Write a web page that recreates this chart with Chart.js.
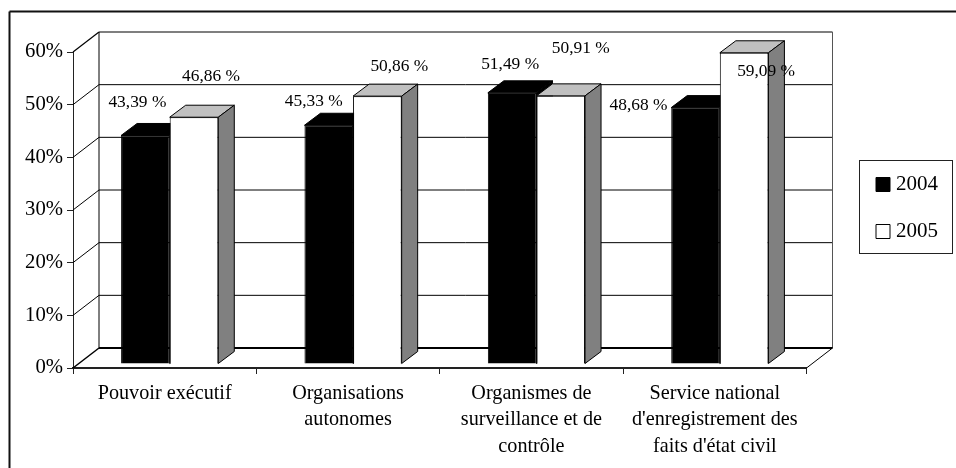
<!DOCTYPE html>
<html>
<head>
<meta charset="utf-8">
<style>
  html, body { margin: 0; padding: 0; background: #fff; }
  canvas { display: block; }
</style>
<script src="https://cdn.jsdelivr.net/npm/chart.js@4"></script>
</head>
<body>
<canvas id="chart" width="956" height="468"></canvas>
<script>
const categories = [
    'Pouvoir exécutif',
    ['Organisations', 'autonomes'],
    ['Organismes de', 'surveillance et de', 'contrôle'],
    ['Service national', "d'enregistrement des", "faits d'état civil"]
];
const values2004 = [43.39, 45.33, 51.49, 48.68];
const values2005 = [46.86, 50.86, 50.91, 59.09];
const yTicks = [0, 10, 20, 30, 40, 50, 60];

const serif = '"Liberation Serif", "Times New Roman", serif';

// fake 3D: wall depth and bar depth in px
const wall = { dx: 26, dy: -20 };
const barShift = { x: 5, y: -4 };
const barDepth = { dx: 16, dy: -12 };

// where each value label sits relative to the top centre of its bar
const labelOffsets = [
    [[-8, -33], [-15, -24], [-2, -28], [-57, -2]],
    [[17, -41], [22, -30], [20, -47], [22, 19]]
];

function line(ctx, x1, y1, x2, y2, color, width) {
    ctx.beginPath();
    ctx.moveTo(x1, y1);
    ctx.lineTo(x2, y2);
    ctx.strokeStyle = color;
    ctx.lineWidth = width;
    ctx.stroke();
}

function face(ctx, pts, fill) {
    ctx.beginPath();
    pts.forEach((p, i) => i ? ctx.lineTo(p[0], p[1]) : ctx.moveTo(p[0], p[1]));
    ctx.closePath();
    ctx.fillStyle = fill;
    ctx.fill();
    ctx.strokeStyle = '#000';
    ctx.lineWidth = 1;
    ctx.stroke();
}

const box3d = {
    id: 'box3d',
    afterLayout(chart) {
        // legend sits further right and higher than the default layout puts it
        const legend = chart.legend;
        legend.left = 850;
        legend.right = 938;
        legend.top -= 52;
        legend.bottom -= 52;
    },
    beforeDatasetsDraw(chart) {
        const ctx = chart.ctx;
        const { left, right, bottom } = chart.chartArea;
        const y = chart.scales.y;
        const backL = left + wall.dx;
        const backR = right + wall.dx;
        const top = y.getPixelForValue(60) + wall.dy;
        const floor = bottom + wall.dy;

        ctx.save();
        // walls and gridlines
        yTicks.forEach(t => {
            const py = y.getPixelForValue(t);
            if (t > 0) {
                line(ctx, left, py, backL, py + wall.dy, '#000', t === 60 ? 1.2 : 1);
                line(ctx, backL, py + wall.dy, backR, py + wall.dy, '#000', t === 60 ? 1.2 : 1);
            }
        });
        line(ctx, backL, top, backL, floor, '#000', 1);
        line(ctx, backR, top, backR, floor, '#555', 1);
        line(ctx, backL, floor, backR, floor, '#000', 2);
        line(ctx, left, bottom, backL, floor, '#000', 1.5);
        line(ctx, right, bottom, backR, floor, '#000', 1);

        // bars are pushed into the floor a bit, the library draws the front faces after this
        ctx.translate(barShift.x, barShift.y);
        chart.data.datasets.forEach((ds, di) => {
            chart.getDatasetMeta(di).data.forEach(bar => {
                const x0 = bar.x - bar.width / 2;
                const x1 = bar.x + bar.width / 2;
                const d = barDepth;
                face(ctx, [[x0, bar.y], [x0 + d.dx, bar.y + d.dy], [x1 + d.dx, bar.y + d.dy], [x1, bar.y]], ds.topColor);
                face(ctx, [[x1, bar.y], [x1 + d.dx, bar.y + d.dy], [x1 + d.dx, bar.base + d.dy], [x1, bar.base]], ds.sideColor);
            });
        });
        ctx.restore();

        ctx.save();
        ctx.translate(barShift.x, barShift.y);
    },
    afterDatasetsDraw(chart) {
        const ctx = chart.ctx;
        ctx.restore();

        ctx.save();
        ctx.font = '17.4px ' + serif;
        ctx.fillStyle = '#000';
        ctx.textAlign = 'center';
        ctx.textBaseline = 'middle';
        chart.data.datasets.forEach((ds, di) => {
            chart.getDatasetMeta(di).data.forEach((bar, i) => {
                const off = labelOffsets[di][i];
                const text = ds.data[i].toFixed(2).replace('.', ',') + ' %';
                ctx.fillText(text, bar.x + barShift.x + off[0], bar.y + barShift.y + off[1]);
            });
        });
        ctx.restore();
    },
    afterDraw(chart) {
        const ctx = chart.ctx;
        ctx.save();
        // outer frame, only top and left show in the picture
        line(ctx, 9.5, 468, 9.5, 11.5, '#111', 2);
        line(ctx, 9.5, 11.5, 956, 11.5, '#111', 2);
        // legend box
        ctx.strokeStyle = '#222';
        ctx.lineWidth = 1;
        ctx.strokeRect(859.5, 160.5, 93, 93);
        ctx.restore();
    }
};

new Chart(document.getElementById('chart'), {
    type: 'bar',
    data: {
        labels: categories,
        datasets: [
            {
                label: '2004',
                data: values2004,
                backgroundColor: '#000',
                borderColor: '#000',
                borderWidth: 1,
                topColor: '#000',
                sideColor: '#000'
            },
            {
                label: '2005',
                data: values2005,
                backgroundColor: '#fff',
                borderColor: '#000',
                borderWidth: 1,
                topColor: '#c0c0c0',
                sideColor: '#808080'
            }
        ]
    },
    options: {
        responsive: false,
        animation: false,
        categoryPercentage: 0.53,
        barPercentage: 1,
        layout: { padding: { top: 52, left: 0, right: 47, bottom: 0 } },
        plugins: {
            tooltip: { enabled: false },
            legend: {
                position: 'right',
                labels: {
                    boxWidth: 14,
                    boxHeight: 14,
                    padding: 26,
                    color: '#000',
                    textAlign: 'right',
                    font: { family: serif, size: 21 }
                }
            }
        },
        scales: {
            x: {
                afterFit(scale) { scale.height = 100; },
                grid: { drawOnChartArea: false, offset: true, color: '#222', tickLength: 6 },
                border: { color: '#222', width: 2 },
                ticks: {
                    color: '#000',
                    maxRotation: 0,
                    autoSkip: false,
                    padding: 6,
                    font: { family: serif, size: 20.2, lineHeight: 1.32 }
                }
            },
            y: {
                min: 0,
                max: 60,
                afterFit(scale) { scale.width = 73; },
                afterBuildTicks(scale) { scale.ticks = yTicks.map(v => ({ value: v })); },
                grid: { drawOnChartArea: false, color: '#222', tickLength: 6 },
                border: { color: '#222', width: 1 },
                ticks: {
                    color: '#000',
                    padding: 4,
                    font: { family: serif, size: 20.7 },
                    callback: v => v + '%'
                }
            }
        }
    },
    plugins: [box3d]
});
</script>
</body>
</html>
